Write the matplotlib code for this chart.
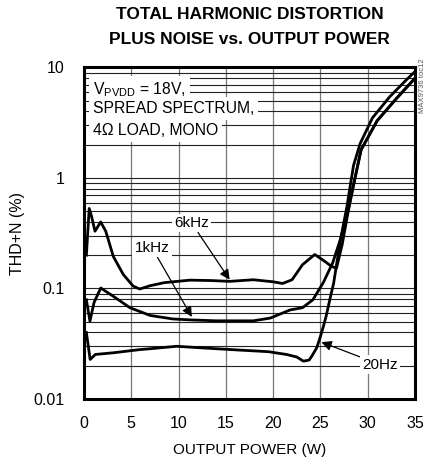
import matplotlib
matplotlib.use("Agg")
import matplotlib.pyplot as plt
from matplotlib.ticker import LogLocator, FixedLocator, NullFormatter

plt.rcParams['font.family'] = ['Liberation Sans', 'DejaVu Sans']
plt.rcParams['mathtext.fontset'] = 'custom'
plt.rcParams['mathtext.rm'] = 'Liberation Sans'
plt.rcParams['mathtext.it'] = 'Liberation Sans'

# data (output power W, THD+N %)
p_20hz = [0.25, 0.65, 1.2, 3.1, 5.9, 7.0, 9.8, 12.5, 16.5, 19.5, 21.4, 22.5, 23.2,
          23.8, 24.1, 24.6, 24.9, 25.3, 25.6, 26.0, 26.4, 27.1, 27.8, 28.5, 29.2,
          30.5, 32.3, 34.0, 35.0]
thd_20hz = [0.040, 0.0228, 0.0253, 0.0262, 0.028, 0.0285, 0.030, 0.029, 0.0277,
            0.0268, 0.0253, 0.024, 0.022, 0.0225, 0.0245, 0.029, 0.0345, 0.045,
            0.056, 0.080, 0.112, 0.27, 0.55, 1.3, 2.05, 3.5, 5.4, 7.6, 9.2]

p_1khz = [0.25, 0.63, 1.06, 1.77, 3.1, 4.86, 7.0, 9.4, 11.2, 14.0, 16.5, 17.9, 19.7,
          21.0, 21.8, 23.1, 24.2, 25.3, 26.3, 27.1, 27.9, 28.4, 29.3, 31.0, 33.0, 35.0]
thd_1khz = [0.079, 0.0506, 0.0746, 0.101, 0.085, 0.067, 0.057, 0.053, 0.052, 0.051,
            0.051, 0.051, 0.054, 0.060, 0.064, 0.067, 0.079, 0.113, 0.171, 0.277,
            0.50, 0.80, 1.8, 3.3, 5.2, 8.0]

p_6khz = [0.25, 0.55, 0.8, 1.16, 1.76, 2.3, 3.1, 4.15, 5.2, 5.9, 7.0, 8.5, 11.2, 13.5,
          15.4, 17.9, 20.0, 21.0, 22.0, 23.1, 24.4, 25.3, 26.2, 26.7, 27.3, 27.9,
          28.4, 29.3, 31.0, 33.0, 35.0]
thd_6khz = [0.20, 0.53, 0.45, 0.33, 0.40, 0.33, 0.195, 0.134, 0.105, 0.099, 0.106,
            0.113, 0.119, 0.118, 0.116, 0.12, 0.115, 0.111, 0.12, 0.164, 0.203, 0.18,
            0.158, 0.153, 0.25, 0.48, 0.78, 1.8, 3.3, 5.2, 8.0]

x_ticks = [0, 5, 10, 15, 20, 25, 30, 35]
y_ticks = [0.01, 0.1, 1, 10]
y_labels = ['0.01', '0.1', '1', '10']

fig = plt.figure(figsize=[4.25, 4.63], dpi=100)
ax = fig.add_axes([84/425, 1-399/463, 331/425, 331.5/463])

for p, t in [(p_20hz, thd_20hz), (p_1khz, thd_1khz), (p_6khz, thd_6khz)]:
    ax.plot(p, t, color='k', lw=2.0, solid_joinstyle='round', zorder=3)

ax.set_yscale('log')
ax.set_xlim(0, 35)
ax.set_ylim(0.01, 10)
ax.xaxis.set_major_locator(FixedLocator(x_ticks))
ax.set_yticks(y_ticks)
ax.set_yticklabels(y_labels)
ax.yaxis.set_minor_locator(LogLocator(base=10, subs=range(2, 10)))
ax.yaxis.set_minor_formatter(NullFormatter())
ax.tick_params(which='both', length=0, labelsize=11.5)
ax.tick_params(axis='y', pad=14)
ax.tick_params(axis='x', pad=12)

ax.grid(True, axis='y', which='both', color='#222222', lw=0.8, zorder=1)
ax.grid(True, axis='x', which='major', color='#777777', lw=0.9, zorder=1)
ax.set_axisbelow(True)
for s in ax.spines.values():
    s.set_linewidth(2.2)

ax.set_xlabel('OUTPUT POWER (W)', fontsize=11, labelpad=9)
ax.set_ylabel('THD+N (%)', fontsize=11.5, labelpad=6)

fig.text(249.5/425, 1-7/463, 'TOTAL HARMONIC DISTORTION\nPLUS NOISE vs. OUTPUT POWER',
         ha='center', va='top', fontsize=12.5, fontweight='bold', linespacing=1.8)

# condition text, each line on its own white patch
box = dict(boxstyle='square,pad=0.25', fc='white', ec='none')
cond = [r'V$_{\mathrm{PVDD}}$ = 18V,', 'SPREAD SPECTRUM,', '4Ω LOAD, MONO']
for k, s in enumerate(cond):
    ax.text(0.027, [0.920, 0.862, 0.796][k], s, transform=ax.transAxes,
            fontsize=11.3, va='baseline', ha='left', bbox=box, zorder=4)

arr = dict(arrowstyle='-|>', color='k', lw=0.9, mutation_scale=15, shrinkA=0, shrinkB=0)
lbox = dict(boxstyle='square,pad=0.15', fc='white', ec='none')
ax.annotate('6kHz', xy=(15.4, 0.12), xytext=(11.4, 0.39), fontsize=11,
            ha='center', va='center', bbox=lbox, arrowprops=arr, zorder=4)
ax.annotate('1kHz', xy=(11.4, 0.0553), xytext=(7.2, 0.233), fontsize=11,
            ha='center', va='center', bbox=lbox, arrowprops=arr, zorder=4)
ax.annotate('20Hz', xy=(25.1, 0.0327), xytext=(31.3, 0.0205), fontsize=11,
            ha='center', va='center', bbox=lbox, arrowprops=arr, zorder=4)

fig.text(422/425, 1-58/463, 'MAX9736 toc12', rotation=90, ha='center', va='top',
         fontsize=5.5, color='#555555')

fig.savefig('out.png', dpi=100)
